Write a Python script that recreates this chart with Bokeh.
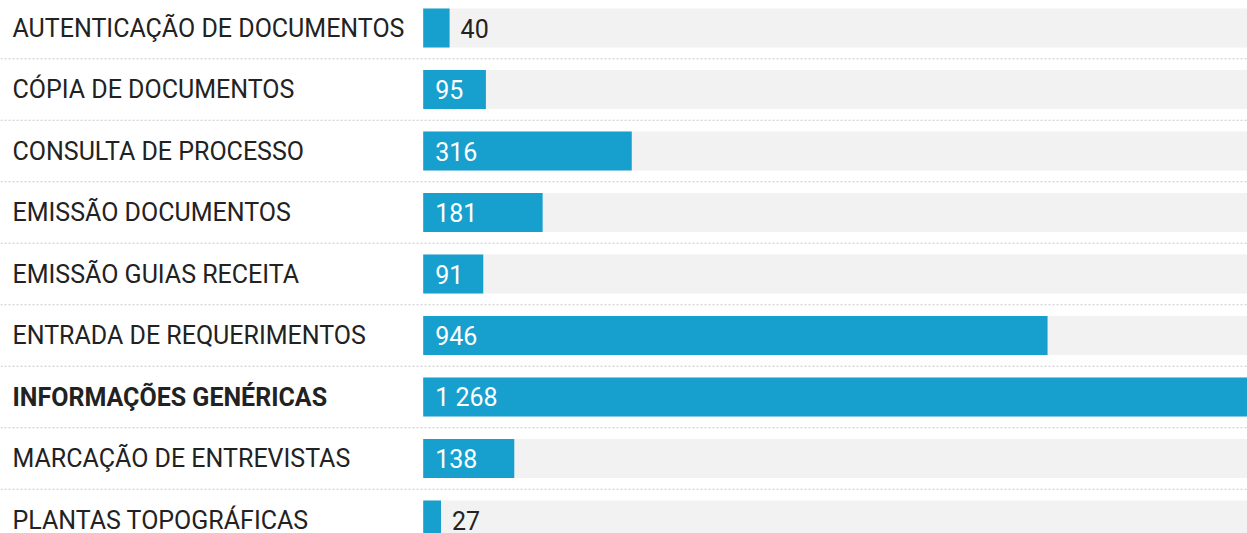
from bokeh.plotting import figure
from bokeh.models import Range1d, ColumnDataSource, Span
from bokeh.embed import file_html
from bokeh.resources import INLINE
from bokeh.core.properties import value

categories = [
    "AUTENTICAÇÃO DE DOCUMENTOS",
    "CÓPIA DE DOCUMENTOS",
    "CONSULTA DE PROCESSO",
    "EMISSÃO DOCUMENTOS",
    "EMISSÃO GUIAS RECEITA",
    "ENTRADA DE REQUERIMENTOS",
    "INFORMAÇÕES GENÉRICAS",
    "MARCAÇÃO DE ENTREVISTAS",
    "PLANTAS TOPOGRÁFICAS",
]
counts = [40, 95, 316, 181, 91, 946, 1268, 138, 27]
count_labels = ["40", "95", "316", "181", "91", "946", "1 268", "138", "27"]
highlight = "INFORMAÇÕES GENÉRICAS"

BLUE = "#17a0ce"
GREY = "#f2f2f2"
TEXT = "#222222"
FONT = "Roboto"
FS = "25px"

W, H = 1247, 533
x_scale = 0.66          # px per unit
x0_px = 422.7            # pixel of value 0 inside the frame
row_px = 61.5
row0_px = 27.5

x_start = -x0_px / x_scale
x_end = (W - x0_px) / x_scale
y_top = -row0_px / row_px
y_bot = (H - row0_px) / row_px

p = figure(width=W, height=H, output_backend="svg", toolbar_location=None,
           x_range=Range1d(x_start, x_end), y_range=Range1d(y_bot, y_top),
           x_axis_location=None, y_axis_location=None, min_border=0,
           outline_line_color=None, background_fill_color="white",
           border_fill_color="white")
p.xgrid.visible = False
p.ygrid.visible = False

n = len(categories)
ys = list(range(n))
full = max(counts)

src = ColumnDataSource(dict(y=ys, v=counts, full=[full] * n, lab=count_labels, cat=categories))

p.hbar(y="y", left=0, right="full", height=39 / row_px, source=src,
       fill_color=GREY, line_color=None)
p.hbar(y="y", left=0, right="v", height=39 / row_px, source=src,
       fill_color=BLUE, line_color=None)

for i in range(n - 1):
    p.add_layout(Span(location=i + 0.5, dimension="width", line_color="#c8c8c8",
                      line_width=1, line_dash="2 2"))

# category labels
norm = [i for i in ys if categories[i] != highlight]
bold = [i for i in ys if categories[i] == highlight]
for idx, style in ((norm, "normal"), (bold, "bold")):
    p.text(x=[0] * len(idx), y=idx, text=[categories[i] for i in idx],
           x_offset=-(x0_px - 12), text_align="left", text_baseline="middle",
           text_font=value(FONT), text_font_size=FS, text_font_style=style,
           text_color=TEXT)

# value labels
inside = [i for i in ys if counts[i] >= 60]
outside = [i for i in ys if counts[i] < 60]
p.text(x=[0] * len(inside), y=inside, text=[count_labels[i] for i in inside],
       x_offset=12, text_align="left", text_baseline="middle",
       text_font=value(FONT), text_font_size=FS, text_color="white")
p.text(x=[counts[i] for i in outside], y=outside, text=[count_labels[i] for i in outside],
       x_offset=11, text_align="left", text_baseline="middle",
       text_font=value(FONT), text_font_size=FS, text_color=TEXT)

open("out.html", "w").write(file_html(p, INLINE))
